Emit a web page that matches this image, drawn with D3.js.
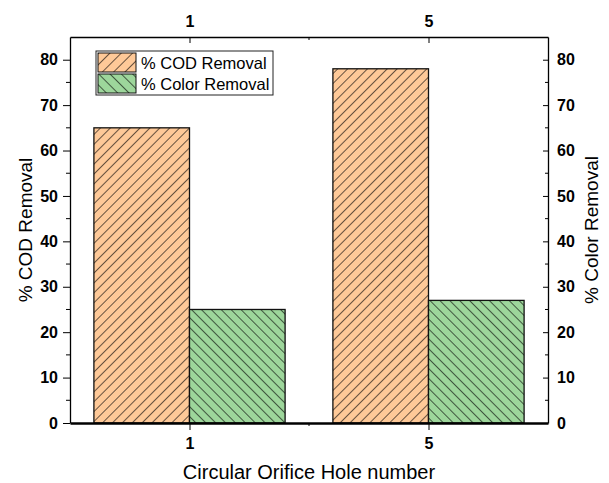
<!DOCTYPE html>
<html>
<head>
<meta charset="utf-8">
<script src="https://cdn.jsdelivr.net/npm/d3@7"></script>
<style>
  body { margin: 0; background: #fff; }
  svg { display: block; font-family: "Liberation Sans", Arial, Helvetica, sans-serif; }
  .tick text { font-weight: bold; font-size: 16px; fill: #000; }
  .domain, .tick line { stroke: #000; }
</style>
</head>
<body>
<div id="chart"></div>
<script>
const W = 609, H = 483;
const M = { left: 70, right: 61, top: 37, bottom: 60 };

// data
const holes = ["1", "5"];
const codRemoval = [65, 78];
const colorRemoval = [25, 27];
const yTicks = [0, 10, 20, 30, 40, 50, 60, 70, 80];
const yMinor = [5, 15, 25, 35, 45, 55, 65, 75];
const seriesNames = ["% COD Removal", "% Color Removal"];

const ORANGE = "#fec998";
const GREEN = "#9dd69b";

var svg = d3.select("#chart").append("svg")
  .attr("width", W)
  .attr("height", H);

var defs = svg.append("defs");
var hatch = (id, fill, angle, gap) => {
  var p = defs.append("pattern")
    .attr("id", id)
    .attr("patternUnits", "userSpaceOnUse")
    .attr("width", gap)
    .attr("height", gap)
    .attr("patternTransform", "rotate(" + angle + ")");
  p.append("rect").attr("width", gap).attr("height", gap).attr("fill", fill);
  p.append("line")
    .attr("x1", 0).attr("y1", 0).attr("x2", 0).attr("y2", gap)
    .attr("stroke", "#000").attr("stroke-width", 1.2);
}
hatch("hOrange", ORANGE, 45, 7);
hatch("hGreen", GREEN, -45, 7);
hatch("lOrange", ORANGE, 45, 8);
hatch("lGreen", GREEN, -45, 8);

var x = d3.scalePoint()
  .domain(holes)
  .range([M.left, W - M.right])
  .padding(0.5);
var barW = x.step() * 0.4;

var y = d3.scaleLinear()
  .domain([0, 85])
  .range([H - M.bottom, M.top]);

var bars = svg.append("g");
bars.selectAll("rect.cod")
  .data(codRemoval)
  .enter()
  .append("rect")
  .attr("class", "cod")
  .attr("x", (d, i) => x(holes[i]) - barW)
  .attr("y", d => y(d))
  .attr("width", barW)
  .attr("height", d => y(0) - y(d))
  .attr("fill", "url(#hOrange)")
  .attr("stroke", "#111")
  .attr("stroke-width", 1.3);

bars.selectAll("rect.color")
  .data(colorRemoval)
  .enter()
  .append("rect")
  .attr("class", "color")
  .attr("x", (d, i) => x(holes[i]))
  .attr("y", d => y(d))
  .attr("width", barW)
  .attr("height", d => y(0) - y(d))
  .attr("fill", "url(#hGreen)")
  .attr("stroke", "#111")
  .attr("stroke-width", 1.3);

// axes
var mid = (x(holes[0]) + x(holes[1])) / 2;

var gLeft = svg.append("g")
  .attr("transform", "translate(" + M.left + ",0)")
  .call(d3.axisLeft(y).tickValues(yTicks).tickSize(7).tickSizeOuter(0).tickPadding(5));
gLeft.selectAll("line.minor")
  .data(yMinor).enter().append("line")
  .attr("x1", -4).attr("x2", 0)
  .attr("y1", d => y(d)).attr("y2", d => y(d))
  .attr("stroke", "#000");

var gRight = svg.append("g")
  .attr("transform", "translate(" + (W - M.right) + ",0)")
  .call(d3.axisRight(y).tickValues(yTicks).tickSizeInner(-5).tickSizeOuter(0).tickPadding(9));
gRight.selectAll("line.minor")
  .data(yMinor).enter().append("line")
  .attr("x1", -3).attr("x2", 0)
  .attr("y1", d => y(d)).attr("y2", d => y(d))
  .attr("stroke", "#000");

var gBottom = svg.append("g")
  .attr("transform", "translate(0," + (H - M.bottom) + ")")
  .call(d3.axisBottom(x).tickSize(7).tickSizeOuter(0).tickPadding(8));
gBottom.select(".domain").attr("stroke-width", 2.5);
gBottom.append("line")
  .attr("x1", mid).attr("x2", mid).attr("y1", 0).attr("y2", 3)
  .attr("stroke", "#000");

var gTop = svg.append("g")
  .attr("transform", "translate(0," + M.top + ")")
  .call(d3.axisTop(x).tickSizeInner(-6).tickSizeOuter(0).tickPadding(10));
gTop.append("line")
  .attr("x1", mid).attr("x2", mid).attr("y1", 0).attr("y2", 3)
  .attr("stroke", "#000");

svg.selectAll(".domain").attr("stroke-width", function() {
  return d3.select(this).attr("stroke-width") || 1.3;
});

// axis titles
svg.append("text")
  .text("Circular Orifice Hole number")
  .attr("x", mid)
  .attr("y", 479)
  .attr("text-anchor", "middle")
  .attr("font-size", 20);

svg.append("text")
  .text("% COD Removal")
  .attr("transform", "translate(32," + y(42.5) + ") rotate(-90)")
  .attr("text-anchor", "middle")
  .attr("font-size", 19);

svg.append("text")
  .text("% Color Removal")
  .attr("transform", "translate(598," + y(42.5) + ") rotate(-90)")
  .attr("text-anchor", "middle")
  .attr("font-size", 19);

// legend
var legend = svg.append("g").attr("transform", "translate(96,51)");
legend.append("rect")
  .attr("width", 177).attr("height", 44)
  .attr("fill", "#fff").attr("stroke", "#222").attr("stroke-width", 1);
var items = legend.selectAll("g.item")
  .data(seriesNames)
  .enter()
  .append("g")
  .attr("class", "item")
  .attr("transform", (d, i) => "translate(2," + (2 + i * 21) + ")");
items.append("rect")
  .attr("width", 38).attr("height", 19)
  .attr("fill", (d, i) => i == 0 ? "url(#lOrange)" : "url(#lGreen)")
  .attr("stroke", "#111").attr("stroke-width", 1);
items.append("text")
  .text(d => d)
  .attr("x", 43)
  .attr("y", 15.5)
  .attr("font-size", 16.5);
</script>
</body>
</html>
